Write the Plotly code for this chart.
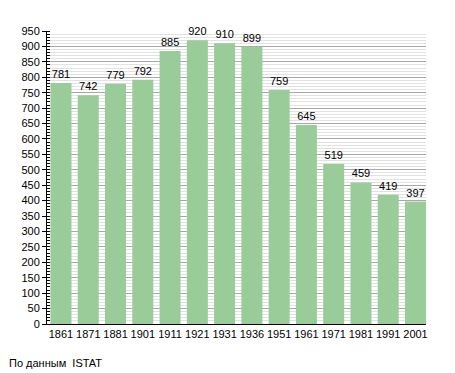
import plotly.graph_objects as go

years = ["1861", "1871", "1881", "1901", "1911", "1921", "1931", "1936",
         "1951", "1961", "1971", "1981", "1991", "2001"]
population = [781, 742, 779, 792, 885, 920, 910, 899, 759, 645, 519, 459, 419, 397]
y_ticks = list(range(0, 951, 50))
source_note = "По данным  ISTAT"

fig = go.Figure()
fig.add_trace(go.Bar(
    x=years, y=population,
    marker=dict(color="#99cc99", line=dict(width=0)),
    text=[str(v) for v in population],
    textposition="outside",
    textfont=dict(family="Liberation Sans, Arial, sans-serif", size=11, color="black"),
    cliponaxis=False,
    width=0.77,
))

fig.update_layout(
    template="none",
    width=455, height=373,
    margin=dict(l=39, r=37, t=23, b=57, autoexpand=False),
    paper_bgcolor="white", plot_bgcolor="white",
    font=dict(family="Liberation Sans, Arial, sans-serif", size=11, color="black"),
    showlegend=False,
    bargap=0.23,
    xaxis=dict(
        type="category", range=[-0.513, 13.385], automargin=False,
        showline=True, linecolor="black", linewidth=1,
        ticks="", showgrid=False, tickfont=dict(size=11),
    ),
    yaxis=dict(
        range=[0, 950], tickvals=y_ticks, automargin=False,
        showline=True, linecolor="black", linewidth=1,
        ticks="outside", ticklen=4, tickcolor="black",
        showgrid=True, gridcolor="#a8a8a8", gridwidth=1,
        zeroline=False, tickfont=dict(size=11),
        minor=dict(dtick=10, ticks="inside", ticklen=3, tickcolor="black",
                   showgrid=True, gridcolor="#e2e2e2", gridwidth=1),
    ),
    annotations=[dict(
        text=source_note, xref="paper", yref="paper",
        x=-40/379, y=-31/293, xanchor="left", yanchor="top",
        showarrow=False, font=dict(size=11, color="black"),
    )],
)

fig.write_html("out.html")
